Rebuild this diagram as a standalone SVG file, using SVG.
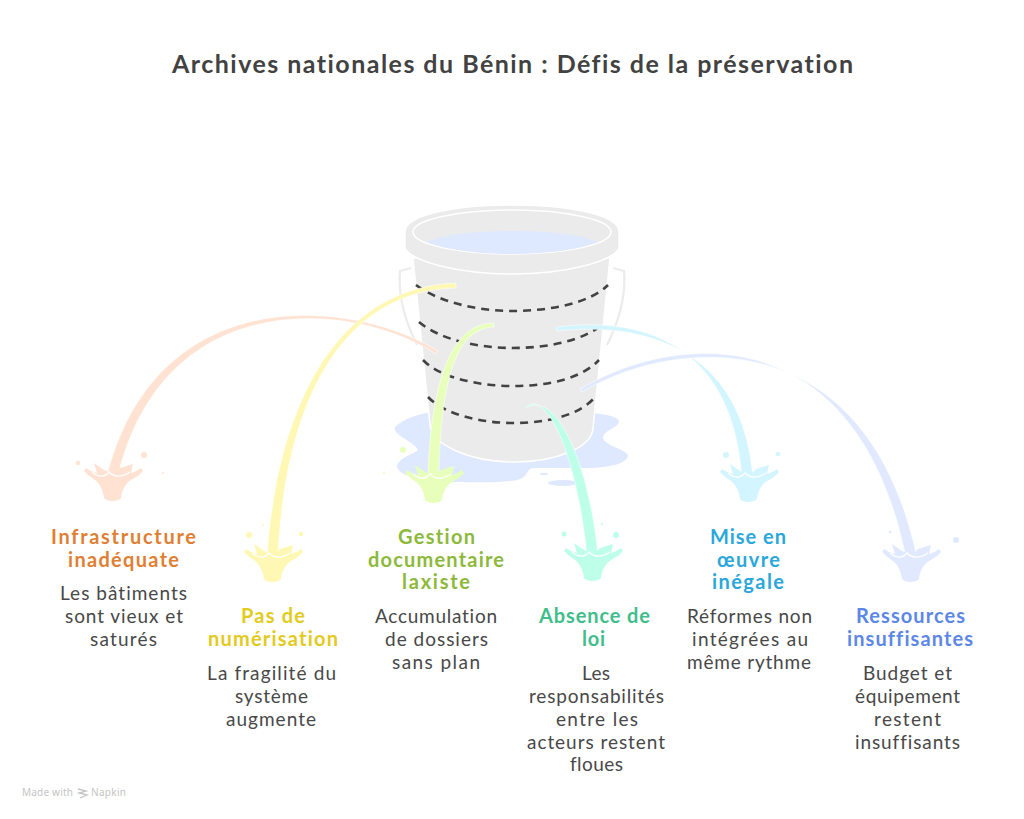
<svg xmlns="http://www.w3.org/2000/svg" width="1024" height="819" viewBox="0 0 1024 819">
<style>
text{font-family:"Lato","Noto Sans",sans-serif;text-anchor:middle;font-variant-ligatures:none}
.title{font-size:25px;font-weight:700;fill:#424242}
.h{font-size:20px;font-weight:700}
.b{font-size:19px;fill:#484848}
.stream{stroke:#fff;stroke-width:.5}
.dash{fill:none;stroke:#424242;stroke-width:2.6;stroke-dasharray:8 6}
.o{fill:#FFE2D1}.y{fill:#FFF8B4}.g{fill:#E8FFBC}.t{fill:#BDFFE8}.c{fill:#D2F5FF}.u{fill:#E0E9FF}
.credit{font-family:"Noto Sans",sans-serif;font-size:10px;fill:#c4c4c4}
</style>
<defs>
<g id="splash">
<path d="M-8,-3 C-9,-12 -13,-18 -17,-21 C-20,-23 -25,-27 -28,-30 L-26,-33 C-23,-31 -19,-29 -15,-28 L-18,-38 L-8,-31 L-3,-29 L4,-29 L8,-33 L21,-37 L19,-28 C23,-29 26,-31 29,-33 L31,-30 C28,-26 23,-23 19,-21 C14,-18 10,-12 9,-3 C6,1 -5,1 -8,-3 Z"/>
<path d="M-20,-29 C-13,-23 -7,-24 -3,-29 C2,-24 9,-23 18,-29" fill="none" stroke="#fff" stroke-width="1.300"/>
</g>
</defs>
<rect width="1024" height="819" fill="#fff"/>
<text class="title" x="512.500" y="73" textLength="681">Archives nationales du Bénin : Défis de la préservation</text>

<g id="bucket">
<path d="M395,427 C405,418 418,414 433,412 L592,413 C603,414 617,416 619,421 C619,428 603,430 603,438 C605,446 628,450 628,456 C626,466 600,468 585,468 L533,468 C524,470 530,480 510,481 C490,483 475,482 455,482 C430,482 400,478 397,467 C398,458 412,455 418,450 C412,440 392,435 395,427 Z" fill="#DEE8FF"/>
<ellipse cx="563" cy="483" rx="15" ry="3" fill="#DEE8FF"/>
<ellipse cx="544" cy="474" rx="4" ry="1" fill="#DEE8FF"/>
<path d="M411,268 L400,271 Q397,305 417,345 M613,268 L624,271 Q627,305 607,345" fill="none" stroke="#ececec" stroke-width="2.200"/>
<path d="M413,258 L430,425 C432,445 470,462 514,462 C555,462 592,448 593,428 L610,258 Z" fill="#EBEBEB" stroke="#fff" stroke-width="1.500"/>
<path d="M405,232 C405,215 455,205 512,205 C570,205 619,215 619,232 L619,248 C612,262 565,274 512,274 C460,274 412,262 405,248 Z" fill="#EBEBEB" stroke="#fff" stroke-width="1.500"/>
<ellipse cx="512" cy="232" rx="99" ry="22" fill="#EBEBEB" stroke="#fff" stroke-width="1.500"/>
<path d="M427,242 C445,234 480,231 512,231 C545,231 580,234 597,242 C580,250 545,254 512,254 C480,254 445,250 427,242 Z" fill="#DEE8FF"/>
<path class="dash" d="M416,285 C440,303 480,311 512,311 C550,311 590,303 608,285"/>
<path class="dash" d="M419,322 C440,340 480,348 512,348 C550,348 585,340 604,323"/>
<path class="dash" d="M423,360 C440,378 480,386 513,386 C550,386 582,378 599,360"/>
<path class="dash" d="M428,397 C445,415 482,423 513,423 C548,423 580,415 595,397"/>
</g>

<g id="connectors">
<path class="stream o" d="M438,351 C350,297 156,281 107,476 L118,476 C163,287 350,299 436,354 Z"/>
<path class="stream y" d="M456,283 C340,287 278,400 267,556 L278,556 C285,404 340,291 456,288 Z"/>
<path class="stream g" d="M494,323 C448,323 431,390 428,474 L439,474 C441,392 452,328 494,327 Z"/>
<path class="stream t" d="M526,407 C548,388 578,462 587,556 L598,556 C590,468 558,392 528,407 Z"/>
<path class="stream c" d="M556,327 C650,315 733,350 742,478 L753,478 C743,352 650,321 557,331 Z"/>
<path class="stream u" d="M580,389 C680,330 858,320 906,558 L917,558 C868,324 680,334 582,392 Z"/>
</g>

<g id="n1">
<use href="#splash" x="112" y="501" class="o"/>
<circle class="o" cx="144" cy="455" r="3"/><circle class="o" cx="78" cy="463" r="2.200"/><circle class="o" cx="163" cy="473" r="1"/>
<text class="h" fill="#E07F33" x="123.500" y="544" textLength="145">Infrastructure</text>
<text class="h" fill="#E07F33" x="123.500" y="567" textLength="111">inadéquate</text>
<text class="b" x="123.500" y="600" textLength="127">Les bâtiments</text>
<text class="b" x="124" y="623" textLength="118">sont vieux et</text>
<text class="b" x="123.500" y="646" textLength="67">saturés</text>
</g>
<g id="n2">
<use href="#splash" x="272" y="582" class="y"/>
<circle class="y" cx="249" cy="535" r="3"/><circle class="y" cx="301" cy="534" r="2.200"/><circle class="y" cx="263" cy="525" r="1"/>
<text class="h" fill="#E2CB1E" x="273" y="623" textLength="64">Pas de</text>
<text class="h" fill="#E2CB1E" x="273" y="646" textLength="130">numérisation</text>
<text class="b" x="271.500" y="680" textLength="129">La fragilité du</text>
<text class="b" x="271.500" y="703" textLength="73">système</text>
<text class="b" x="271" y="726" textLength="90">augmente</text>
</g>
<g id="n3">
<use href="#splash" x="433" y="503" class="g"/>
<circle class="g" cx="403" cy="450" r="3"/><circle class="g" cx="384" cy="473" r="1"/>
<text class="h" fill="#8DB93B" x="436.500" y="544" textLength="77">Gestion</text>
<text class="h" fill="#8DB93B" x="436" y="567" textLength="136">documentaire</text>
<text class="h" fill="#8DB93B" x="436" y="589" textLength="68">laxiste</text>
<text class="b" x="436" y="623" textLength="122">Accumulation</text>
<text class="b" x="436.500" y="646" textLength="103">de dossiers</text>
<text class="b" x="436" y="669" textLength="88">sans plan</text>
</g>
<g id="n4">
<use href="#splash" x="592" y="581" class="t"/>
<circle class="t" cx="564" cy="534" r="2.500"/><circle class="t" cx="616" cy="535" r="3"/><circle class="t" cx="602" cy="524" r="1"/>
<text class="h" fill="#3FBE8C" x="594.500" y="623" textLength="111">Absence de</text>
<text class="h" fill="#3FBE8C" x="593.500" y="646" textLength="23">loi</text>
<text class="b" x="596" y="680" textLength="28">Les</text>
<text class="b" x="596.500" y="703" textLength="135">responsabilités</text>
<text class="b" x="597" y="726" textLength="82">entre les</text>
<text class="b" x="596" y="749" textLength="138">acteurs restent</text>
<text class="b" x="596.500" y="771" textLength="53">floues</text>
</g>
<g id="n5">
<use href="#splash" x="748" y="502" class="c"/>
<circle class="c" cx="726" cy="455" r="3"/><circle class="c" cx="778" cy="454" r="2.200"/>
<text class="h" fill="#2BA8D9" x="748" y="544" textLength="76">Mise en</text>
<text class="h" fill="#2BA8D9" x="748.500" y="567" textLength="63">œuvre</text>
<text class="h" fill="#2BA8D9" x="748" y="589" textLength="72">inégale</text>
<text class="b" x="749.500" y="623" textLength="125">Réformes non</text>
<text class="b" x="750" y="646" textLength="116">intégrées au</text>
<text class="b" x="749" y="669" textLength="124">même rythme</text>
</g>
<g id="n6">
<use href="#splash" x="910" y="582" class="u"/>
<circle class="u" cx="956" cy="540" r="3"/><circle class="u" cx="890" cy="532" r="1.500"/>
<text class="h" fill="#5C87E6" x="910.500" y="623" textLength="109">Ressources</text>
<text class="h" fill="#5C87E6" x="910" y="646" textLength="126">insuffisantes</text>
<text class="b" x="907.500" y="680" textLength="89">Budget et</text>
<text class="b" x="907.500" y="703" textLength="105">équipement</text>
<text class="b" x="907.500" y="726" textLength="67">restent</text>
<text class="b" x="907.500" y="749" textLength="105">insuffisants</text>
</g>
<g id="credit">
<text class="credit" x="47.500" y="796" textLength="51">Made with</text>
<path d="M78,789 L86,791 L79,793 L87,795 L80,798" fill="none" stroke="#c4c4c4" stroke-width="1.300"/>
<text class="credit" x="108.500" y="796" textLength="35">Napkin</text>
</g>
</svg>
